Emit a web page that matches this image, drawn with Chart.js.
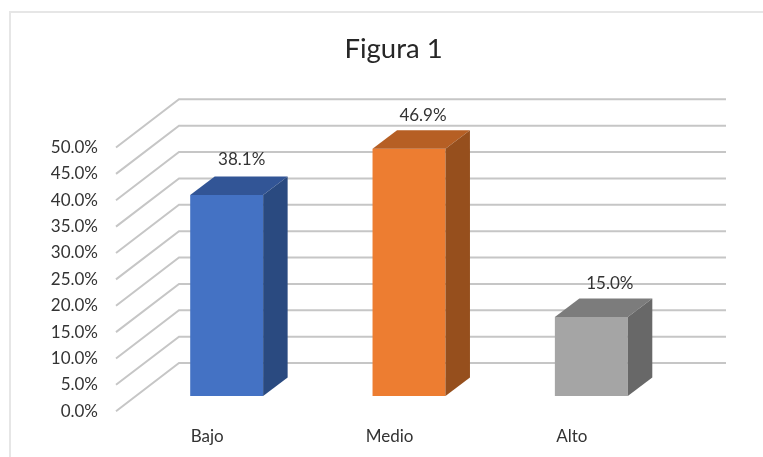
<!DOCTYPE html>
<html>
<head>
    <title>Figura 1</title>
    <style>
        body {
            margin: 0;
            padding: 0;
            background: #fff;
            overflow: hidden;
        }

        .frame {
            position: absolute;
            left: 9px;
            top: 11px;
            right: 0;
            bottom: 0;
            border-left: 2px solid #e6e6e6;
            border-top: 2px solid #e6e6e6;
        }

        .wrap {
            position: absolute;
            left: 0;
            top: 0;
            width: 763px;
            height: 457px;
        }
    </style>
</head>
<body>
    <div class="frame"></div>
    <div class="wrap"><canvas id="chart"></canvas></div>
    <script src="https://cdn.jsdelivr.net/npm/chart.js"></script>
    <script>
        var categories = ['Bajo', 'Medio', 'Alto'];
        var values = [38.1, 46.9, 15.0];

        var frontColors = ['#4472c4', '#ed7d31', '#a5a5a5'];
        var topColors = ['#325596', '#b65f24', '#7c7c7c'];
        var sideColors = ['#2a4a80', '#964f1d', '#686868'];
        var labelNudge = [15, 14, 18.5];
        var labelLift = [36, 33, 33.5];

        // fake 3D: floor depth of the walls, and of the bars
        var wallDx = 63, wallDy = -48.2;
        var barShiftX = 19.5, barShiftY = -15.2;
        var barDx = 24.5, barDy = -18.5;
        var textFont = 'Lato';

        function face(ctx, color, pts) {
            ctx.fillStyle = color;
            ctx.beginPath();
            ctx.moveTo(pts[0][0], pts[0][1]);
            for (var i = 1; i < pts.length; i++) {
                ctx.lineTo(pts[i][0], pts[i][1]);
            }
            ctx.closePath();
            ctx.fill();
        }

        var fake3d = {
            id: 'fake3d',
            afterLayout: function(chart) {
                // title sits a little right of the plot centre
                chart.titleBlock.left = 0;
                chart.titleBlock.right = 787;
            },
            beforeDatasetsDraw: function(chart) {
                var ctx = chart.ctx;
                var yScale = chart.scales.y;
                var left = chart.chartArea.left;
                var right = chart.chartArea.right;

                ctx.save();
                ctx.strokeStyle = '#c6c6c6';
                ctx.lineWidth = 2;
                yScale.ticks.forEach(function(tick) {
                    var y = yScale.getPixelForValue(tick.value);
                    ctx.beginPath();
                    ctx.moveTo(left, y);
                    ctx.lineTo(left + wallDx, y + wallDy);
                    ctx.lineTo(right + wallDx, y + wallDy);
                    ctx.stroke();
                });
                ctx.restore();

                ctx.save();
                ctx.translate(barShiftX, barShiftY);
            },
            afterDatasetsDraw: function(chart) {
                var ctx = chart.ctx;
                var bars = chart.getDatasetMeta(0).data;

                bars.forEach(function(bar, i) {
                    var l = bar.x - bar.width / 2;
                    var r = bar.x + bar.width / 2;
                    face(ctx, topColors[i], [[l, bar.y], [r, bar.y], [r + barDx, bar.y + barDy], [l + barDx, bar.y + barDy]]);
                    face(ctx, sideColors[i], [[r, bar.y], [r + barDx, bar.y + barDy], [r + barDx, bar.base + barDy], [r, bar.base]]);
                });
                ctx.restore();

                ctx.save();
                ctx.fillStyle = '#333';
                ctx.font = '17px ' + textFont;
                ctx.textAlign = 'center';
                ctx.textBaseline = 'middle';
                bars.forEach(function(bar, i) {
                    ctx.fillText(values[i].toFixed(1) + '%', bar.x + barShiftX + labelNudge[i], bar.y + barShiftY - labelLift[i]);
                });
                ctx.restore();
            }
        };

        new Chart(document.getElementById('chart'), {
            type: 'bar',
            data: {
                labels: categories,
                datasets: [{
                    data: values,
                    backgroundColor: frontColors,
                    barPercentage: 0.4,
                    categoryPercentage: 1,
                    clip: false
                }]
            },
            options: {
                responsive: true,
                maintainAspectRatio: false,
                animation: false,
                layout: {
                    padding: { left: 20, right: 100, top: 0, bottom: 0 }
                },
                plugins: {
                    legend: { display: false },
                    tooltip: { enabled: false },
                    title: {
                        display: true,
                        text: 'Figura 1',
                        color: '#262626',
                        font: { family: textFont, size: 27.5, weight: 'normal', lineHeight: 1.2 },
                        padding: { top: 33, bottom: 81.5 }
                    }
                },
                scales: {
                    x: {
                        grid: { display: false, drawTicks: false },
                        border: { display: false },
                        afterFit: function(scale) { scale.height = 45.8; },
                        ticks: {
                            color: '#333',
                            padding: 15.5,
                            font: { family: textFont, size: 17 }
                        }
                    },
                    y: {
                        min: 0,
                        max: 50,
                        grid: { display: false, drawTicks: false },
                        border: { display: false },
                        afterFit: function(scale) { scale.width = 96; },
                        ticks: {
                            stepSize: 5,
                            autoSkip: false,
                            color: '#333',
                            padding: 18,
                            font: { family: textFont, size: 17 },
                            callback: function(v) { return v.toFixed(1) + '%'; }
                        }
                    }
                }
            },
            plugins: [fake3d]
        });
    </script>
</body>
</html>
